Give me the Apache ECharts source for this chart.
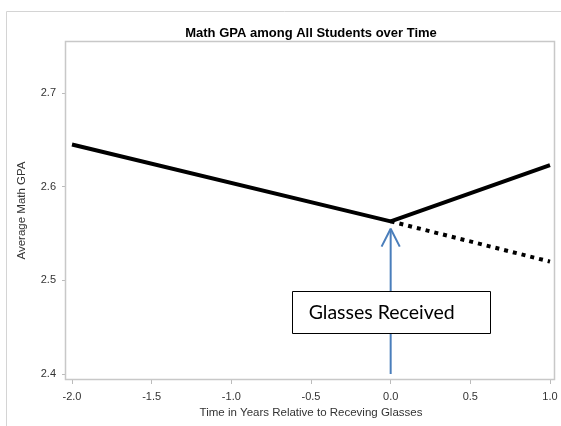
<!DOCTYPE html>
<html>
<head>
<meta charset="utf-8">
<script src="https://cdn.jsdelivr.net/npm/echarts@6/dist/echarts.min.js"></script>
<style>html,body{margin:0;padding:0;background:#fff}#c{width:561px;height:426px}</style>
</head>
<body>
<div id="c"></div>
<script>
// Data
const titleText = 'Math GPA among All Students over Time';
const xName = 'Time in Years Relative to Receving Glasses';
const yName = 'Average Math GPA';
const solidX = [-2.0, 0.0, 1.0];
const solidY = [2.645, 2.563, 2.623];
const dottedX = [0.0, 1.0];
const dottedY = [2.563, 2.520];
const arrowShaftX = [0.0, 0.0];
const arrowShaftY = [2.40, 2.555];
const arrowHeadX = [-0.057, 0.0, 0.057];
const arrowHeadY = [2.536, 2.555, 2.536];
const annotationText = 'Glasses Received';
const annotationAt = [0.0, 2.4665];

const zip = (xs, ys) => xs.map((x, i) => [x, ys[i]]);

const chart = echarts.init(document.getElementById('c'), null, {renderer: 'canvas'});
const axisFont = {fontFamily: 'Liberation Sans, Arial, sans-serif', fontSize: 11, color: '#333'};
chart.setOption({
  animation: false,
  backgroundColor: '#fff',
  title: {
    text: titleText, left: 306, top: 22, textAlign: 'center',
    textStyle: {fontFamily: 'Liberation Sans, Arial, sans-serif', fontSize: 13, fontWeight: 'bold', color: '#000'}
  },
  grid: {left: 72, right: 11, top: 93, bottom: 52},
  xAxis: {
    type: 'value', min: -2, max: 1, interval: 0.5, offset: 6,
    axisLine: {show: false, onZero: false},
    axisTick: {show: true, length: 4, lineStyle: {color: '#bbb'}},
    splitLine: {show: false},
    axisLabel: Object.assign({margin: 11, formatter: v => v.toFixed(1)}, axisFont),
    name: xName, nameLocation: 'middle', nameGap: 25,
    nameTextStyle: Object.assign({}, axisFont, {fontSize: 11.5})
  },
  yAxis: {
    type: 'value', min: 2.4, max: 2.7, interval: 0.1, offset: 6,
    axisLine: {show: false, onZero: false},
    axisTick: {show: true, length: 4, lineStyle: {color: '#bbb'}},
    splitLine: {show: false},
    axisLabel: Object.assign({margin: 10, formatter: v => v.toFixed(1)}, axisFont)
  },
  series: [
    {type: 'line', data: zip(solidX, solidY), symbol: 'none', lineStyle: {color: '#000', width: 4}, z: 5},
    {type: 'line', data: zip(dottedX, dottedY), symbol: 'none', lineStyle: {color: '#000', width: 4, type: [4, 5]}, z: 4},
    {type: 'line', data: zip(arrowShaftX, arrowShaftY), symbol: 'none', lineStyle: {color: '#4a7ebb', width: 2}, z: 3},
    {type: 'line', data: zip(arrowHeadX, arrowHeadY), symbol: 'none', lineStyle: {color: '#4a7ebb', width: 2}, z: 3}
  ]
});

const p = chart.convertToPixel({xAxisIndex: 0, yAxisIndex: 0}, annotationAt);
const bw = 198, bh = 42;
chart.setOption({
  graphic: [
    {type: 'rect', shape: {x: 6.5, y: 11.5, width: 700, height: 600}, style: {fill: 'none', stroke: '#d4d4d4', lineWidth: 1}, z: 0, silent: true},
    {type: 'rect', shape: {x: 65.5, y: 41.5, width: 489, height: 338}, style: {fill: 'none', stroke: '#c8c8c8', lineWidth: 1.5}, z: 1, silent: true},
    {type: 'text', x: 22, y: 210.5, rotation: Math.PI / 2, z: 10,
     style: {text: yName, fontFamily: 'Liberation Sans, Arial, sans-serif', fontSize: 11.5, fill: '#333', align: 'center', verticalAlign: 'middle'}},
    {type: 'rect', shape: {x: Math.round(p[0] - bw / 2) + 0.5, y: Math.round(p[1] - bh / 2) + 0.5, width: bw, height: bh},
     style: {fill: '#fff', stroke: '#000', lineWidth: 1}, z: 100},
    {type: 'text', x: p[0] - 9, y: p[1] + 1, z: 101,
     style: {text: annotationText, fontFamily: 'Lato, Open Sans, sans-serif', fontSize: 19.5, fill: '#000', align: 'center', verticalAlign: 'middle'}}
  ]
});
</script>
</body>
</html>
